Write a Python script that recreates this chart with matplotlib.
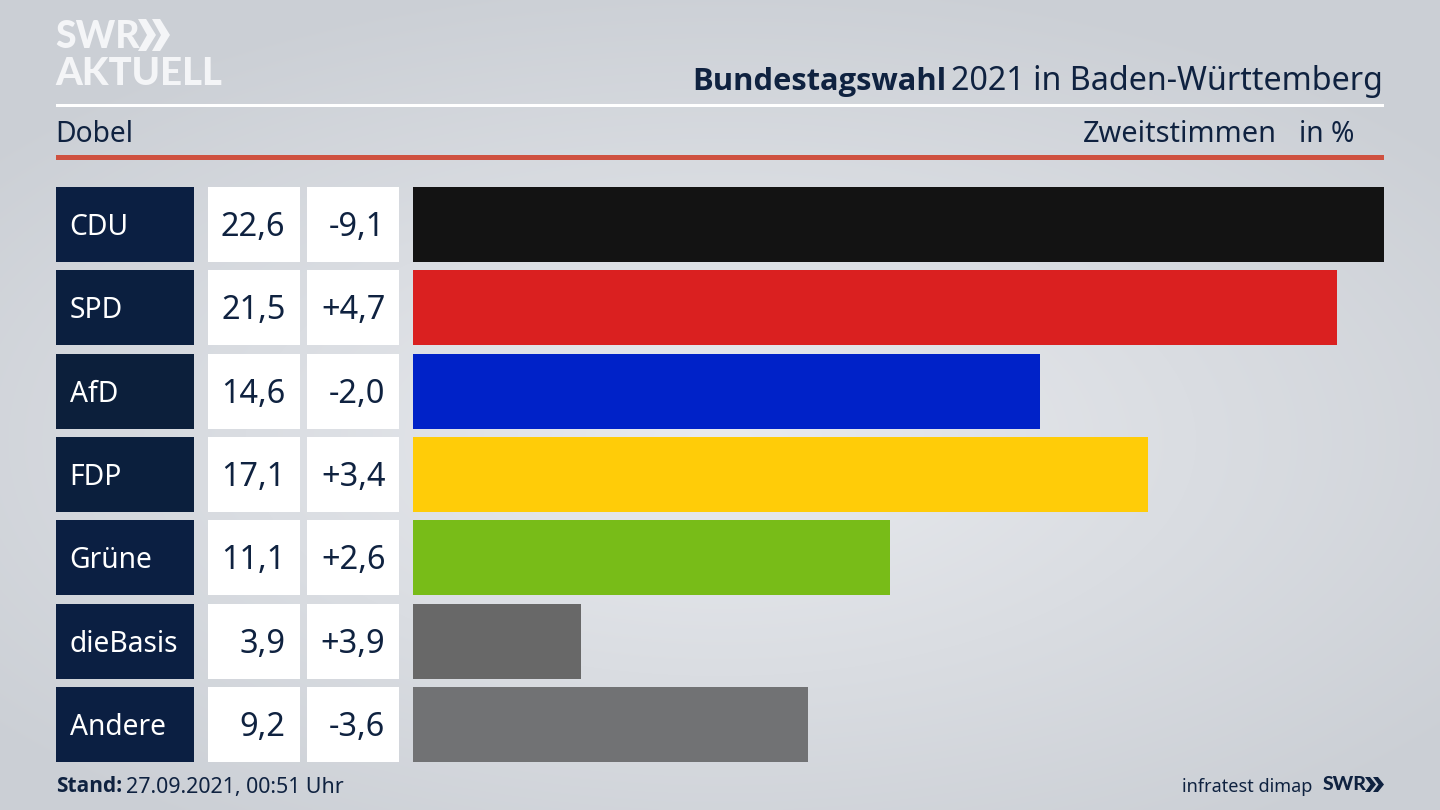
import numpy as np
import matplotlib
matplotlib.use("Agg")
import matplotlib.pyplot as plt
from matplotlib.patches import Rectangle, Polygon

parties = ["CDU", "SPD", "AfD", "FDP", "Grüne", "dieBasis", "Andere"]
shares = [22.6, 21.5, 14.6, 17.1, 11.1, 3.9, 9.2]
changes = ["-9,1", "+4,7", "-2,0", "+3,4", "+2,6", "+3,9", "-3,6"]
bar_colors = ["#131313", "#da2020", "#0022c8", "#ffcc08", "#78bc18", "#686868", "#717274"]
label_colors = ["#0b1f42", "#0b1f3f", "#0c1f3b", "#0b1f3d", "#0b1f42", "#0b1f42", "#0b1f42"]

NAVY = "#0f2240"
FONT = "Noto Sans"
BOLD = "Open Sans"
LOGO = "Lato"
plt.rcParams["font.family"] = [FONT, "DejaVu Sans"]

fig = plt.figure(figsize=(14.4, 8.1), dpi=100)
bg = fig.add_axes([0, 0, 1, 1])
bg.set_xlim(0, 1440)
bg.set_ylim(810, 0)
bg.axis("off")

yy, xx = np.mgrid[0:810:2, 0:1440:2]
r = np.sqrt(((xx - 720) / 950) ** 2 + ((yy - 440) / 470) ** 2)
t = np.clip(r, 0, 1)[..., None]
inner = np.array([0xe9, 0xeb, 0xef]) / 255
outer = np.array([0xcb, 0xcf, 0xd5]) / 255
bg.imshow(inner * (1 - t) + outer * t, extent=(0, 1440, 810, 0), aspect="auto", zorder=0, interpolation="bilinear")

# header lines
bg.add_patch(Rectangle((56, 104), 1328, 3, color="white", lw=0, zorder=1))
bg.add_patch(Rectangle((56, 155), 1328, 5, color="#cf5140", lw=0, zorder=1))

# logo
bg.text(55, 37, "SWR", fontsize=27, fontweight="black", family=LOGO, color="#f4f5f7", va="center", ha="left", zorder=2)
bg.text(55, 74, "AKTUELL", fontsize=27.5, fontweight="black", family=LOGO, color="#f4f5f7", va="center", ha="left", zorder=2)
def chevrons(ax, x, y, h, w, step, color):
    for dx in (0, step):
        ax.add_patch(Polygon([(x + dx, y), (x + dx + w * 0.45, y), (x + dx + w, y + h / 2),
                              (x + dx + w * 0.45, y + h), (x + dx, y + h), (x + dx + w * 0.5, y + h / 2)],
                             closed=True, color=color, lw=0, zorder=2))
chevrons(bg, 138, 19, 32, 18, 14, "#f4f5f7")

# titles
bg.text(692, 82, "Bundestagswahl", fontsize=22.2, fontweight="bold", family=BOLD, color=NAVY, va="center", ha="left", zorder=2)
bg.text(1383, 82, "2021 in Baden-Württemberg", fontsize=23.2, color=NAVY, va="center", ha="right", zorder=2)
bg.text(55, 135, "Dobel", fontsize=20.3, color=NAVY, va="center", ha="left", zorder=2)
bg.text(1277, 135, "Zweitstimmen", fontsize=20.8, color=NAVY, va="center", ha="right", zorder=2)
bg.text(1354, 135, "in %", fontsize=20.3, color=NAVY, va="center", ha="right", zorder=2)

# table rows
TOP, PITCH, H = 187.1, 83.33, 75
for i, (p, s, c, lc) in enumerate(zip(parties, shares, changes, label_colors)):
    y = TOP + i * PITCH
    bg.add_patch(Rectangle((56, y), 138, H, color=lc, lw=0, zorder=1))
    bg.add_patch(Rectangle((208, y), 92, H, color="white", lw=0, zorder=1))
    bg.add_patch(Rectangle((307, y), 92, H, color="white", lw=0, zorder=1))
    cy = y + H / 2
    bg.text(69.5, cy + 3, p, fontsize=20.3, color="white", va="center", ha="left", zorder=2)
    bg.text(285.5, cy + 3, f"{s:.1f}".replace(".", ","), fontsize=23.4, color=NAVY, va="center", ha="right", zorder=2)
    bg.text(385.5, cy + 3, c, fontsize=23.4, color=NAVY, va="center", ha="right", zorder=2)

# bars
ax = fig.add_axes([413 / 1440, 1 - 762.1 / 810, (1384 - 413) / 1440, 575 / 810])
ax.patch.set_alpha(0)
ax.barh(range(len(parties)), shares, height=0.9, color=bar_colors)
ax.set_xlim(0, max(shares))
ax.set_ylim(len(parties) - 1 + 0.45, -0.45)
ax.axis("off")

# footer
bg.text(56, 787, "Stand:", fontsize=15, fontweight="bold", family=BOLD, color=NAVY, va="center", ha="left", zorder=2)
bg.text(126, 787, "27.09.2021, 00:51 Uhr", fontsize=15.4, color=NAVY, va="center", ha="left", zorder=2)
bg.text(1312, 787, "infratest dimap", fontsize=13, color=NAVY, va="center", ha="right", zorder=2)
bg.text(1323, 785, "SWR", fontsize=14, fontweight="black", family=LOGO, color=NAVY, va="center", ha="left", zorder=2)
chevrons(bg, 1365, 777, 15, 11, 8, NAVY)

fig.savefig("out.png", dpi=100)
